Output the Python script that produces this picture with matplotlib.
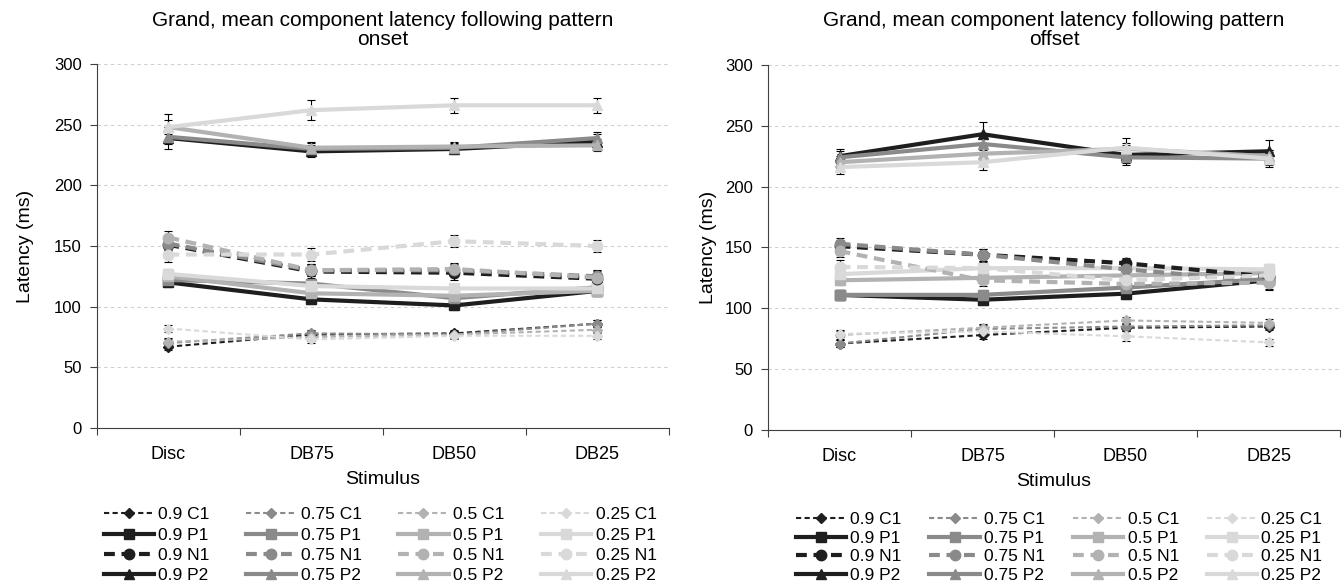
import matplotlib
matplotlib.use('Agg')
from matplotlib import pyplot as plt
import numpy as np

plt.rcParams['font.family'] = ['Liberation Sans', 'DejaVu Sans']

stimuli = ['Disc', 'DB75', 'DB50', 'DB25']
proportions = ['0.9', '0.75', '0.5', '0.25']
components = ['C1', 'P1', 'N1', 'P2']

# onset latencies (ms), one row per proportion 0.9, 0.75, 0.5, 0.25
onset_C1 = [[67, 77, 78, 86], [70, 78, 77, 86], [71, 75, 77, 81], [82, 73, 76, 76]]
onset_P1 = [[120, 106, 101, 113], [122, 119, 107, 116], [125, 111, 109, 113], [127, 117, 115, 115]]
onset_N1 = [[151, 129, 128, 123], [152, 130, 130, 125], [157, 130, 131, 124], [143, 143, 154, 150]]
onset_P2 = [[239, 228, 230, 236], [240, 230, 231, 239], [248, 231, 232, 233], [248, 262, 266, 266]]

onset_err_C1 = [[3, 3, 3, 3], [3, 3, 3, 3], [3, 3, 3, 3], [3, 3, 3, 3]]
onset_err_P1 = [[4, 4, 4, 4], [4, 4, 4, 4], [4, 4, 4, 4], [4, 4, 4, 4]]
onset_err_N1 = [[5, 5, 6, 5], [5, 5, 5, 5], [5, 5, 5, 5], [6, 5, 5, 5]]
onset_err_P2 = [[9, 5, 4, 6], [6, 5, 4, 5], [6, 5, 4, 5], [11, 8, 6, 6]]

# offset latencies (ms)
offset_C1 = [[71, 78, 84, 85], [71, 83, 85, 86], [78, 84, 90, 88], [79, 81, 77, 72]]
offset_P1 = [[111, 107, 112, 123], [111, 111, 117, 124], [123, 125, 127, 129], [128, 133, 133, 132]]
offset_N1 = [[151, 144, 137, 126], [153, 144, 132, 122], [147, 123, 120, 121], [134, 133, 123, 127]]
offset_P2 = [[225, 243, 226, 229], [224, 235, 224, 223], [220, 227, 231, 225], [216, 220, 232, 223]]

offset_err_C1 = [[3, 3, 3, 3], [3, 3, 3, 3], [3, 3, 3, 3], [3, 3, 4, 3]]
offset_err_P1 = [[4, 4, 4, 4], [4, 4, 4, 4], [4, 4, 4, 4], [4, 4, 4, 4]]
offset_err_N1 = [[5, 5, 4, 5], [5, 5, 5, 7], [5, 5, 5, 5], [6, 5, 5, 5]]
offset_err_P2 = [[6, 10, 8, 9], [5, 5, 5, 5], [5, 5, 5, 5], [6, 6, 8, 7]]

colors = ['#1e1e1e', '#8a8a8a', '#b2b2b2', '#d9d9d9']
styles = {
    'C1': dict(marker='D', ms=5.5, lw=1.5, dashes=(2.5, 1.6)),
    'P1': dict(marker='s', ms=7, lw=3, dashes=()),
    'N1': dict(marker='o', ms=7.5, lw=3, dashes=(2.6, 1.6)),
    'P2': dict(marker='^', ms=7.5, lw=3, dashes=()),
}


def draw(ax, data, errs, title, ylabpad, leg_anchor, leg_space, col_space):
    x = np.arange(4) + 0.5
    handles = {}
    for comp in components:
        for i, p in enumerate(proportions):
            st = styles[comp]
            y = np.array(data[comp][i])
            ax.errorbar(x, y, yerr=errs[comp][i], fmt='none', ecolor='black',
                        elinewidth=0.8, capsize=3, capthick=0.8, zorder=2)
            ln, = ax.plot(x, y, color=colors[i], marker=st['marker'], ms=st['ms'],
                          mfc=colors[i], mec=colors[i], lw=st['lw'], zorder=3,
                          label=p + ' ' + comp)
            if st['dashes']:
                ln.set_dashes(st['dashes'])
            handles[(p, comp)] = ln

    ax.set_xlim(0, 4)
    ax.set_ylim(0, 300)
    ax.set_yticks(np.arange(0, 301, 50))
    ax.set_xticks(np.arange(5))
    ax.set_xticklabels([])
    ax.set_xticks(x, minor=True)
    ax.set_xticklabels(stimuli, minor=True)
    ax.tick_params(axis='x', which='major', length=5, color='#404040')
    ax.tick_params(axis='x', which='minor', length=0, pad=13, labelsize=13)
    ax.tick_params(axis='y', length=5, pad=6, labelsize=12, color='#404040')
    for s in ['top', 'right']:
        ax.spines[s].set_visible(False)
    for s in ['left', 'bottom']:
        ax.spines[s].set_color('#404040')
    ax.yaxis.grid(True, color='#cfcfcf', lw=0.8, ls=(0, (3, 3)))
    ax.set_axisbelow(True)
    ax.set_title(title, fontsize=15, pad=14, linespacing=1.0)
    ax.set_ylabel('Latency (ms)', fontsize=14, labelpad=ylabpad)
    ax.set_xlabel('Stimulus', fontsize=14, labelpad=6)

    order = [handles[(p, c)] for p in proportions for c in components]
    ax.legend(handles=order, loc='center', bbox_to_anchor=leg_anchor,
              bbox_transform=ax.figure.transFigure, ncol=4, frameon=False,
              fontsize=12.5, handlelength=2.9, handletextpad=0.25, numpoints=1,
              labelspacing=leg_space, columnspacing=col_space, borderpad=0)


fig = plt.figure(figsize=(13.43, 5.87), dpi=100)
ax1 = fig.add_axes([0.0722, 0.2709, 0.4259, 0.620])
ax2 = fig.add_axes([0.5719, 0.2675, 0.4259, 0.622])

draw(ax1, {'C1': onset_C1, 'P1': onset_P1, 'N1': onset_N1, 'P2': onset_P2},
     {'C1': onset_err_C1, 'P1': onset_err_P1, 'N1': onset_err_N1, 'P2': onset_err_P2},
     'Grand, mean component latency following pattern\nonset', 14,
     (0.283, 0.071), 0.3, 2.1)
draw(ax2, {'C1': offset_C1, 'P1': offset_P1, 'N1': offset_N1, 'P2': offset_P2},
     {'C1': offset_err_C1, 'P1': offset_err_P1, 'N1': offset_err_N1, 'P2': offset_err_P2},
     'Grand, mean component latency following pattern\noffset', 6,
     (0.7885, 0.0673), 0.2, 1.6)

fig.savefig('out.png', dpi=100)
